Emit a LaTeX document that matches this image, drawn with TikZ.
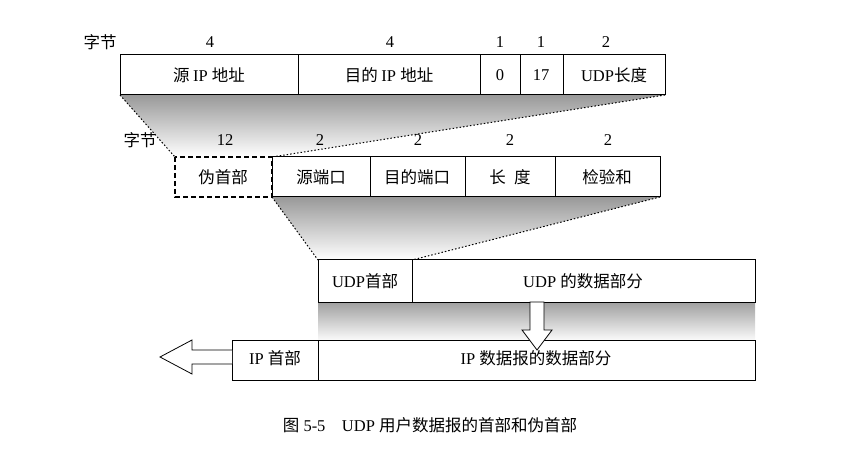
\documentclass[tikz,border=0pt]{standalone}
\usepackage{fontspec}
\setmainfont{Liberation Serif}
\newfontfamily\cjk{Noto Sans CJK SC}
\begin{document}
\begin{tikzpicture}[x=1pt,y=-1pt,
  box/.style={draw,line width=1pt,fill=white},
  lbl/.style={font=\fontsize{16.5}{18}\selectfont},
  dl/.style={dash pattern=on 1.5pt off 2pt,line width=1pt},
  harrow/.style={draw,line width=0.8pt,fill=white}]
\useasboundingbox (0,0) rectangle (848,454);
% shadings
\shade[top color=gray!80,bottom color=white] (120,95) -- (665,95) -- (272,157) -- (175,157) -- cycle;
\shade[top color=gray!80,bottom color=white] (272,197) -- (660,197) -- (412,260) -- (318,260) -- cycle;
\shade[top color=gray!75,bottom color=white] (318,302) rectangle (755,342);
\draw[dl] (120,95) -- (175,157);
\draw[dl] (665,95) -- (272,157);
\draw[dl] (272,197) -- (318,260);
\draw[dl] (660,197) -- (412,260);
% row 1
\node[lbl] (z1) at (100,42) {\cjk 字节};
\foreach \x/\t in {210/4,390/4,500/1,541/1,606/2} \node[lbl] at (\x,42) {\t};
\draw[box] (120,55) rectangle (665,95);
\foreach \x in {298,480,520,563} \draw[line width=0.8pt] (\x,55) -- (\x,95);
\node[lbl] (a1) at (209,75) {\cjk 源 \rmfamily IP \cjk 地址};
\node[lbl] (a2) at (389,75) {\cjk 目的 \rmfamily IP \cjk 地址};
\node[lbl] (a3) at (500,75) {0};
\node[lbl] (a4) at (541,75) {17};
\node[lbl] (a5) at (614,75) {UDP{\cjk 长度}};
% row 2
\node[lbl] (z2) at (140,140) {\cjk 字节};
\foreach \x/\t in {225/12,320/2,418/2,510/2,608/2} \node[lbl] at (\x,140) {\t};
\draw[dash pattern=on 5pt off 3pt,line width=1.3pt,fill=white] (175,157) rectangle (272,197);
\draw[box] (272,157) rectangle (660,197);
\foreach \x in {370,465,555} \draw[line width=0.8pt] (\x,157) -- (\x,197);
\node[lbl] (b0) at (223,177) {\cjk 伪首部};
\node[lbl] (b1) at (321,177) {\cjk 源端口};
\node[lbl] (b2) at (417,177) {\cjk 目的端口};
\node[lbl] (b3) at (510,177) {\cjk 长\enspace 度};
\node[lbl] (b4) at (607,177) {\cjk 检验和};
% row 3
\draw[box] (318,260) rectangle (755,302);
\draw[line width=0.8pt] (412,260) -- (412,302);
\node[lbl] (c1) at (365,281) {UDP{\cjk 首部}};
\node[lbl] (c2) at (583,281) {UDP {\cjk 的数据部分}};
% row 4
\draw[box] (232,340) rectangle (755,380);
\draw[line width=0.8pt] (318,340) -- (318,380);
\node[lbl] (d1) at (275,358) {IP {\cjk 首部}};
\node[lbl] (d2) at (536,358) {IP {\cjk 数据报的数据部分}};
% arrows
\draw[harrow] (530,302) -- (530,330) -- (522,330) -- (537,350) -- (552,330) -- (544,330) -- (544,302) -- cycle;
\draw[harrow] (232,350) -- (192,350) -- (192,340) -- (160,357) -- (192,374) -- (192,364) -- (232,364);
% caption
\node[lbl] (cap) at (430,425) {{\cjk 图} 5-5\quad UDP {\cjk 用户数据报的首部和伪首部}};
\end{tikzpicture}
\end{document}
